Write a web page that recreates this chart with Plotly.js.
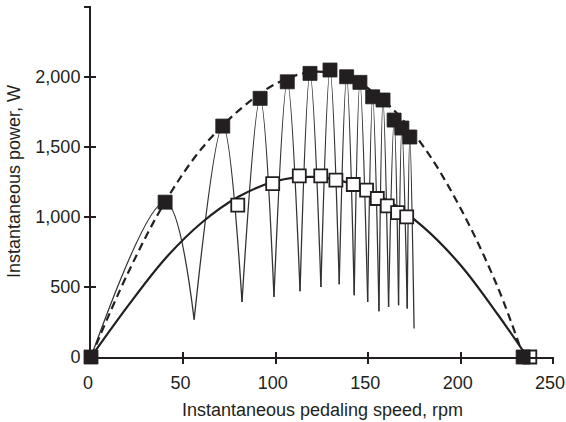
<!DOCTYPE html>
<html>
<head>
<meta charset="utf-8">
<script src="https://cdn.plot.ly/plotly-3.0.1.min.js"></script>
<style>html,body{margin:0;padding:0;background:#fff;}#chart{width:566px;height:422px;}</style>
</head>
<body>
<div id="chart"></div>
<script>
// Instantaneous power over successive pedal cycles (alternating troughs and peaks)
const cycleSpeed = [0, 40.1, 55.8, 71.3, 81.7, 91.5, 99.0, 106.2, 113.1, 118.5, 124.4, 129.3, 134.3, 138.3, 142.4, 145.5, 149.7, 152.4, 155.8, 158.0, 161.0, 164.0, 166.4, 168.2, 171.1, 172.5, 174.8];
const cyclePower = [0, 1105, 267, 1648, 393, 1846, 429, 1964, 469, 2024, 500, 2048, 519, 2000, 441, 1960, 393, 1857, 326, 1834, 357, 1691, 369, 1634, 346, 1570, 203];

// Peak (maximal) power per cycle - filled squares
const peakSpeed = [0, 40.1, 71.3, 91.5, 106.2, 118.5, 129.3, 138.3, 145.5, 152.4, 158.0, 164.0, 168.2, 172.5, 233.8];
const peakPower = [0, 1105, 1648, 1846, 1964, 2024, 2048, 2000, 1960, 1857, 1834, 1691, 1634, 1570, 0];

// Mean power per cycle - open squares
const meanSpeed = [79.4, 98.3, 112.7, 124.3, 132.5, 141.9, 149.1, 154.9, 160.3, 165.9, 170.8, 237.4];
const meanPower = [1084, 1238, 1293, 1293, 1262, 1231, 1191, 1131, 1079, 1031, 1000, 0];

// Power-velocity relationship for peak power (dashed)
const peakCurveSpeed = [0, 20, 40, 60, 80, 100, 120, 140, 160, 180, 200, 220, 234];
const peakCurvePower = [0, 600, 1105, 1490, 1760, 1950, 2035, 1990, 1810, 1500, 1060, 500, 0];

// Power-velocity relationship for mean power (solid)
const meanCurveSpeed = [0, 20, 40, 60, 80, 100, 120, 140, 160, 180, 200, 220, 236];
const meanCurvePower = [0, 365, 700, 960, 1145, 1255, 1285, 1240, 1120, 925, 655, 305, 0];

const xTicks = [0, 50, 100, 150, 200, 250];
const xTickText = ['0', '50', '100', '150', '200', '250'];
const yTicks = [0, 500, 1000, 1500, 2000, 2500];
const yTickText = ['0', '500', '1,000', '1,500', '2,000', ''];

// Build one arch per cycle (trough -> peak -> trough), separated by gaps
const archX = [], archY = [];
for (let i = 0; i + 2 < cycleSpeed.length; i += 2) {
  archX.push(cycleSpeed[i], cycleSpeed[i + 1], cycleSpeed[i + 2], null);
  archY.push(cyclePower[i], cyclePower[i + 1], cyclePower[i + 2], null);
}

const ink = '#231f20';
const traces = [
  {x: archX, y: archY, mode: 'lines', line: {color: '#333333', width: 1.3, shape: 'spline', smoothing: 1}, connectgaps: false, hoverinfo: 'skip'},
  {x: peakCurveSpeed, y: peakCurvePower, mode: 'lines', line: {color: ink, width: 2.2, dash: '8px,5px', shape: 'spline', smoothing: 1}},
  {x: meanCurveSpeed, y: meanCurvePower, mode: 'lines', line: {color: ink, width: 2.2, shape: 'spline', smoothing: 1}},
  {x: meanSpeed, y: meanPower, mode: 'markers', cliponaxis: false, marker: {symbol: 'square', size: 13, color: '#ffffff', line: {color: ink, width: 1.8}}},
  {x: peakSpeed, y: peakPower, mode: 'markers', cliponaxis: false, marker: {symbol: 'square', size: 14, color: ink, line: {color: ink, width: 0.8}}},
  // dummy trace for overlay axes (inside ticks)
  {x: [0], y: [0], xaxis: 'x2', yaxis: 'y2', mode: 'markers', marker: {opacity: 0}, hoverinfo: 'skip'}
];

const font = {family: '"Liberation Sans", Arial, sans-serif', size: 18, color: ink};
const layout = {
  width: 566, height: 422,
  margin: {l: 91, r: 12, t: 6, b: 65},
  paper_bgcolor: '#ffffff', plot_bgcolor: '#ffffff',
  showlegend: false,
  font: font,
  xaxis: {
    range: [0, 250.5], tickvals: xTicks, ticktext: xTickText,
    showline: true, linecolor: ink, linewidth: 2,
    ticks: 'outside', ticklen: 5, tickwidth: 2, tickcolor: ink,
    showgrid: false, zeroline: false, ticklabelstandoff: 3,
    ticklabelshift: -3,
    ticklabeloverflow: 'allow',
    tickfont: font,
    title: {text: 'Instantaneous pedaling speed, rpm', font: font, standoff: 12}
  },
  yaxis: {
    range: [0, 2505], tickvals: yTicks, ticktext: yTickText,
    showline: true, linecolor: ink, linewidth: 2,
    ticks: 'outside', ticklen: 5, tickwidth: 2, tickcolor: ink,
    showgrid: false, zeroline: false,
    ticklabeloverflow: 'allow',
    tickfont: font,
    title: {text: 'Instantaneous power, W', font: font, standoff: 10}
  },
  xaxis2: {
    overlaying: 'x', anchor: 'y2', side: 'bottom', range: [0, 250.5], tickvals: xTicks,
    showticklabels: false, showline: false, showgrid: false, zeroline: false,
    ticks: 'inside', ticklen: 5, tickwidth: 2, tickcolor: ink
  },
  yaxis2: {
    overlaying: 'y', anchor: 'x2', side: 'left', range: [0, 2505], tickvals: yTicks,
    showticklabels: false, showline: false, showgrid: false, zeroline: false,
    ticks: 'inside', ticklen: 5, tickwidth: 2, tickcolor: ink
  }
};

Plotly.newPlot('chart', traces, layout, {displayModeBar: false, staticPlot: true});
</script>
</body>
</html>
